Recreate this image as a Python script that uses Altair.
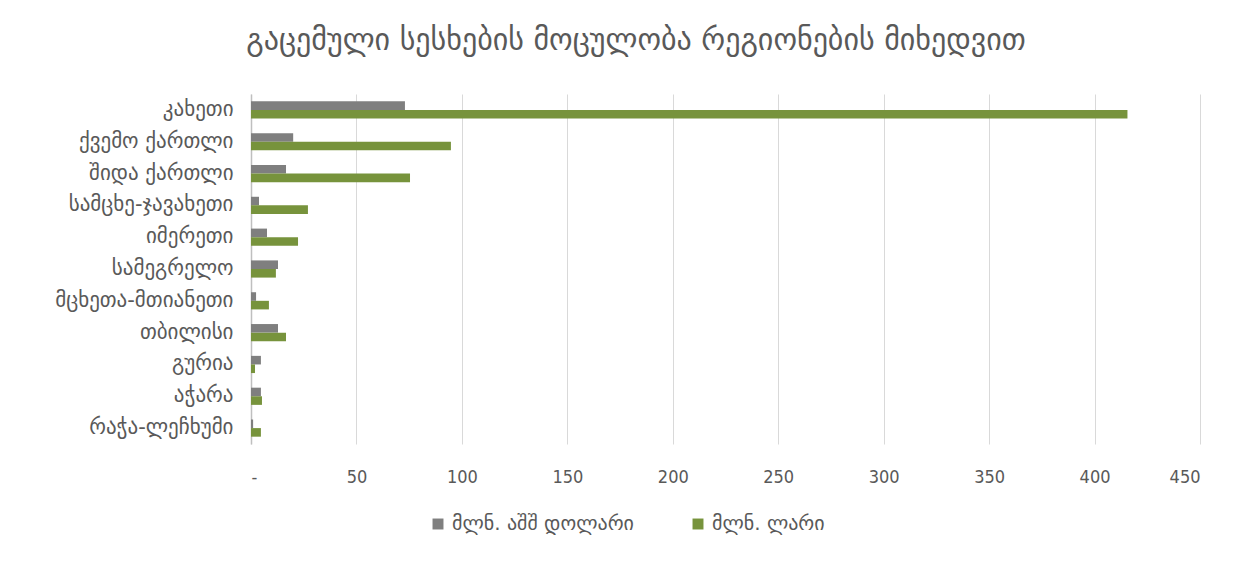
import altair as alt
import pandas as pd

regions = ["კახეთი", "ქვემო ქართლი", "შიდა ქართლი", "სამცხე-ჯავახეთი", "იმერეთი",
           "სამეგრელო", "მცხეთა-მთიანეთი", "თბილისი", "გურია", "აჭარა", "რაჭა-ლეჩხუმი"]
usd = [73, 20, 16.6, 3.8, 7.6, 12.8, 2.4, 12.8, 4.7, 4.7, 1.0]
gel = [415.6, 94.8, 75.4, 27, 22.3, 11.8, 8.5, 16.6, 1.9, 5.2, 4.7]
series = ["მლნ. აშშ დოლარი", "მლნ. ლარი"]
colors = ["#7f7f7f", "#77933c"]
ticks = [0, 50, 100, 150, 200, 250, 300, 350, 400, 450]

rows = []
for r, a, b in zip(regions, usd, gel):
    rows.append({"region": r, "series": series[0], "value": a})
    rows.append({"region": r, "series": series[1], "value": b})
df = pd.DataFrame(rows)

FONT = "DejaVu Sans"
FONTC = "DejaVu Sans Condensed"
TXT = "#595959"

chart = alt.Chart(df).mark_bar().encode(
    y=alt.Y("region:N", sort=regions, title=None,
            scale=alt.Scale(paddingInner=0.46, paddingOuter=0.23),
            axis=alt.Axis(labelFontSize=21, labelColor=TXT, labelFont=FONT, ticks=False,
                          domainColor="#bfbfbf", domainWidth=1.5, labelPadding=18,
                          minExtent=243, maxExtent=243, labelLimit=240)),
    yOffset=alt.YOffset("series:N", sort=series),
    x=alt.X("value:Q", title=None,
            scale=alt.Scale(domain=[0, 450], nice=False),
            axis=alt.Axis(values=ticks, labelExpr="datum.value == 0 ? '-' : datum.label",
                          labelFontSize=18, labelColor=TXT, labelFont=FONTC, ticks=False,
                          domain=False, grid=True, gridColor="#d9d9d9", gridWidth=1,
                          labelPadding=24)),
    color=alt.Color("series:N", sort=series,
                    scale=alt.Scale(domain=series, range=colors),
                    legend=alt.Legend(title=None, orient="none", direction="horizontal",
                                      legendX=177, legendY=420, symbolType="square",
                                      symbolSize=120, labelFontSize=20, labelColor=TXT,
                                      labelFont=FONT, columnPadding=54, labelLimit=400,
                                      symbolStrokeWidth=0)),
).properties(
    width=949, height=350,
    title=alt.TitleParams("გაცემული სესხების მოცულობა რეგიონების მიხედვით",
                          fontSize=30, font=FONT, color=TXT, fontWeight="normal",
                          anchor="middle", frame="bounds", offset=38, dx=32),
    padding={"left": 0, "top": 18, "right": 20, "bottom": 40},
).configure_view(stroke=None)

chart.save("out.html", embed_options={"renderer": "svg", "actions": False})
